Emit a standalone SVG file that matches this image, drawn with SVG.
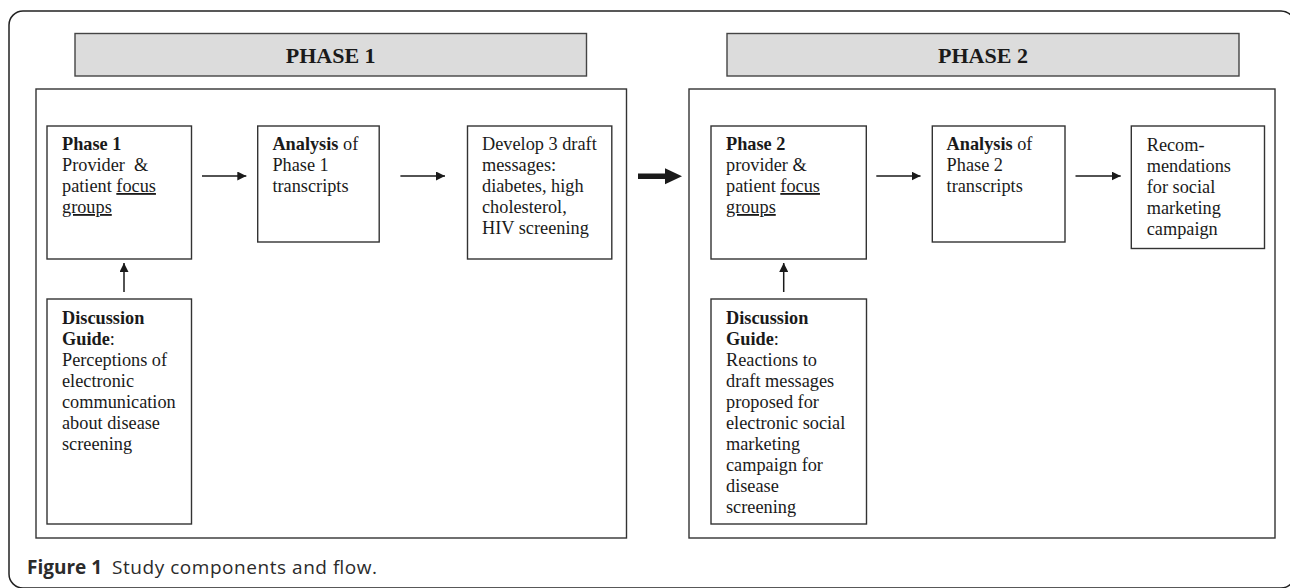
<svg xmlns="http://www.w3.org/2000/svg" width="1290" height="588" viewBox="0 0 1290 588">
<style>
.frame{fill:none;stroke:#222;stroke-width:1.5}
.phase{fill:#dcdcdc;stroke:#444;stroke-width:1.4}
.inner{fill:#fff;stroke:#333;stroke-width:1.4}
.box{fill:#fff;stroke:#333;stroke-width:1.4}
.ph{font-family:"Liberation Serif","Times New Roman",serif;font-weight:bold;font-size:22px;fill:#1a1a1a;text-anchor:middle}
.t{font-family:"Liberation Serif","Times New Roman",serif;font-size:18.3px;fill:#1a1a1a}
.b{font-weight:bold}
.u{text-decoration:underline}
.conn{stroke:#1a1a1a;stroke-width:1.5;fill:none}
.cap{font-family:"Open Sans","Liberation Sans",sans-serif;font-size:19px;fill:#2b2b2b}
</style>
<defs>
<marker id="ah" markerUnits="userSpaceOnUse" markerWidth="10" markerHeight="9" refX="9" refY="4.5" orient="auto">
<path d="M0,0 L9,4.5 L0,9 z" fill="#1a1a1a"/>
</marker>
</defs>
<rect class="frame" x="9" y="11" width="1286" height="577" rx="14"/>
<g id="phase1-header">
<rect class="phase" x="75" y="33.5" width="511.5" height="42.5"/>
<text class="ph" x="330.7" y="62.5">PHASE 1</text>
</g>
<g id="phase2-header">
<rect class="phase" x="727" y="33.5" width="512" height="42.5"/>
<text class="ph" x="983" y="62.5">PHASE 2</text>
</g>
<g id="phase1-frame"><rect class="inner" x="36" y="89" width="590.5" height="449"/></g>
<g id="phase2-frame"><rect class="inner" x="689" y="89" width="586" height="449"/></g>
<g id="p1-focus">
<rect class="box" x="47" y="126" width="144.5" height="133"/>
<text class="t" x="62" y="150"><tspan class="b">Phase 1</tspan><tspan x="62" y="171">Provider&#160; &amp;</tspan><tspan x="62" y="192">patient <tspan class="u">focus</tspan></tspan><tspan x="62" y="213" class="u">groups</tspan></text>
</g>
<g id="p1-analysis">
<rect class="box" x="257.7" y="126" width="121.5" height="116"/>
<text class="t" x="272.4" y="150"><tspan class="b">Analysis</tspan> of<tspan x="272.4" y="171">Phase 1</tspan><tspan x="272.4" y="192">transcripts</tspan></text>
</g>
<g id="p1-develop">
<rect class="box" x="467.5" y="126" width="144.3" height="133"/>
<text class="t" x="482" y="150">Develop 3 draft<tspan x="482" y="171">messages:</tspan><tspan x="482" y="192">diabetes, high</tspan><tspan x="482" y="213">cholesterol,</tspan><tspan x="482" y="234">HIV screening</tspan></text>
</g>
<g id="p1-guide">
<rect class="box" x="47" y="299" width="144.5" height="225"/>
<text class="t" x="62" y="323.5"><tspan class="b">Discussion</tspan><tspan x="62" y="344.5"><tspan class="b">Guide</tspan>:</tspan><tspan x="62" y="365.5">Perceptions of</tspan><tspan x="62" y="386.5">electronic</tspan><tspan x="62" y="407.5">communication</tspan><tspan x="62" y="428.5">about disease</tspan><tspan x="62" y="449.5">screening</tspan></text>
</g>
<g id="p2-focus">
<rect class="box" x="711" y="126" width="155.3" height="133"/>
<text class="t" x="726" y="150"><tspan class="b">Phase 2</tspan><tspan x="726" y="171">provider &amp;</tspan><tspan x="726" y="192">patient <tspan class="u">focus</tspan></tspan><tspan x="726" y="213" class="u">groups</tspan></text>
</g>
<g id="p2-analysis">
<rect class="box" x="932.3" y="126" width="132.7" height="116"/>
<text class="t" x="946.6" y="150"><tspan class="b">Analysis</tspan> of<tspan x="946.6" y="171">Phase 2</tspan><tspan x="946.6" y="192">transcripts</tspan></text>
</g>
<g id="p2-recommendations">
<rect class="box" x="1131.3" y="126" width="133.2" height="122.5"/>
<text class="t" x="1146.7" y="150.5">Recom-<tspan x="1146.7" y="171.5">mendations</tspan><tspan x="1146.7" y="192.5">for social</tspan><tspan x="1146.7" y="213.5">marketing</tspan><tspan x="1146.7" y="234.5">campaign</tspan></text>
</g>
<g id="p2-guide">
<rect class="box" x="711" y="299" width="155.5" height="225"/>
<text class="t" x="726" y="323.5"><tspan class="b">Discussion</tspan><tspan x="726" y="344.5"><tspan class="b">Guide</tspan>:</tspan><tspan x="726" y="365.5">Reactions to</tspan><tspan x="726" y="386.5">draft messages</tspan><tspan x="726" y="407.5">proposed for</tspan><tspan x="726" y="428.5">electronic social</tspan><tspan x="726" y="449.5">marketing</tspan><tspan x="726" y="470.5">campaign for</tspan><tspan x="726" y="491.5">disease</tspan><tspan x="726" y="512.5">screening</tspan></text>
</g>
<g id="connectors">
<line class="conn" x1="202" y1="176" x2="246.3" y2="176" marker-end="url(#ah)"/>
<line class="conn" x1="400.4" y1="176" x2="445" y2="176" marker-end="url(#ah)"/>
<line class="conn" x1="876.3" y1="176" x2="920.5" y2="176" marker-end="url(#ah)"/>
<line class="conn" x1="1075.5" y1="176" x2="1120.7" y2="176" marker-end="url(#ah)"/>
<line class="conn" x1="124" y1="292" x2="124" y2="263" marker-end="url(#ah)"/>
<line class="conn" x1="783.7" y1="292" x2="783.7" y2="263" marker-end="url(#ah)"/>
<polygon points="638,173.6 665,173.6 665,168.3 682,176.3 665,184.3 665,179 638,179" fill="#1a1a1a"/>
</g>
<g id="caption">
<text class="cap" x="27" y="574"><tspan font-weight="bold">Figure 1</tspan><tspan x="112" textLength="265" lengthAdjust="spacing">Study components and flow.</tspan></text>
</g>
</svg>
